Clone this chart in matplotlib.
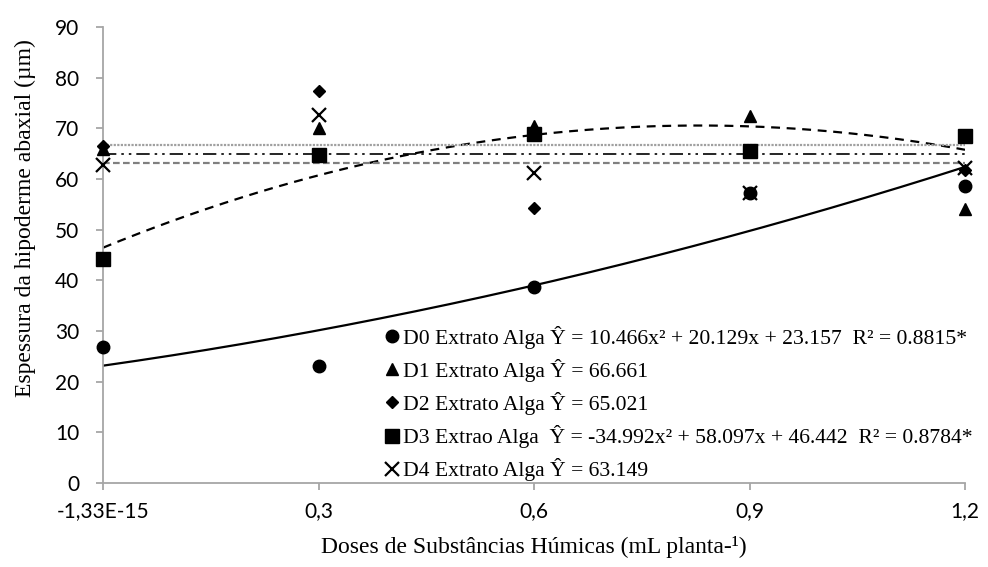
import numpy as np
import matplotlib
matplotlib.use("Agg")
import matplotlib.pyplot as plt
from matplotlib.lines import Line2D

doses = [0.0, 0.3, 0.6, 0.9, 1.2]
xtick_labels = ["-1,33E-15", "0,3", "0,6", "0,9", "1,2"]
d0 = [26.8, 23.1, 38.7, 57.2, 58.7]
d1 = [66.0, 70.0, 70.5, 72.4, 54.0]
d2 = [66.6, 77.3, 54.2, 65.3, 61.7]
d3 = [44.3, 64.7, 68.9, 65.5, 68.5]
d4 = [62.8, 72.6, 61.2, 57.2, 62.1]
coef_d0 = [10.466, 20.129, 23.157]
coef_d3 = [-34.992, 58.097, 46.442]
mean_d1 = 66.661
mean_d2 = 65.021
mean_d4 = 63.149
labels = [
    "D0 Extrato Alga Ŷ = 10.466x² + 20.129x + 23.157  R² = 0.8815*",
    "D1 Extrato Alga Ŷ = 66.661",
    "D2 Extrato Alga Ŷ = 65.021",
    "D3 Extrao Alga  Ŷ = -34.992x² + 58.097x + 46.442  R² = 0.8784*",
    "D4 Extrato Alga Ŷ = 63.149",
]

fig = plt.figure(figsize=(9.88, 5.67), dpi=100)
ax = fig.add_axes([103/988, (567-483)/567, (965-103)/988, (483-27)/567])

xs = np.linspace(0, 1.2, 200)
ax.plot(xs, np.polyval(coef_d0, xs), color="black", lw=1.6, zorder=2)
ax.plot(xs, np.polyval(coef_d3, xs), color="black", lw=1.6, ls=(0, (4, 3)), zorder=2)
ax.plot([0, 1.2], [mean_d1]*2, color="#a0a0a0", lw=1.6, ls=(0, (1, 0.6)), zorder=2)
ax.plot([0, 1.2], [mean_d2]*2, color="black", lw=1.2, ls=(0, (8, 3, 1.5, 3, 1.5, 3)), zorder=2)
ax.plot([0, 1.2], [mean_d4]*2, color="#808080", lw=1.6, ls=(0, (3, 1.5)), zorder=2)

kw = dict(ls="none", color="black", clip_on=False, zorder=3)
ax.plot(doses, d0, marker="o", ms=9, **kw)
ax.plot(doses, d1, marker="^", ms=9, **kw)
ax.plot(doses, d2, marker="D", ms=6.5, **kw)
ax.plot(doses, d3, marker="s", ms=10, **kw)
ax.plot(doses, d4, marker="x", ms=10, mew=1.6, **kw)

ax.set_xlim(0, 1.2)
ax.set_ylim(0, 90)
ax.set_xticks(doses)
ax.set_xticklabels(xtick_labels)
ax.set_yticks(range(0, 91, 10))
for s in ["top", "right"]:
    ax.spines[s].set_visible(False)
for s in ["left", "bottom"]:
    ax.spines[s].set_color("#a6a6a6")
    ax.spines[s].set_linewidth(1.3)
ax.tick_params(axis="both", colors="#a6a6a6", length=5, width=1.3, direction="out",
               labelcolor="black", labelsize=15)
ax.tick_params(axis="y", pad=12)
ax.tick_params(axis="x", pad=8)
for t in ax.get_xticklabels() + ax.get_yticklabels():
    t.set_fontfamily("Lato")

ax.set_ylabel("Espessura da hipoderme abaxial (µm)", fontfamily="Liberation Serif", fontsize=17)
ax.yaxis.set_label_coords(-0.078, (483-218)/456)
ax.set_xlabel("Doses de Substâncias Húmicas (mL planta-¹)", fontfamily="Liberation Serif", fontsize=17)
ax.xaxis.set_label_coords(0.5, -0.117)

handles = [
    Line2D([], [], ls="none", marker="o", color="black", ms=9),
    Line2D([], [], ls="none", marker="^", color="black", ms=9),
    Line2D([], [], ls="none", marker="D", color="black", ms=6.5),
    Line2D([], [], ls="none", marker="s", color="black", ms=10),
    Line2D([], [], ls="none", marker="x", color="black", ms=10, mew=1.6),
]
leg = ax.legend(handles, labels, loc="upper left", bbox_to_anchor=((377-103)/862, (483-317)/456),
                frameon=False, handlelength=0.6, handletextpad=0.2, labelspacing=0.47,
                prop={"family": "Liberation Serif", "size": 15.6}, borderaxespad=0)

fig.savefig("out.png", dpi=100)
